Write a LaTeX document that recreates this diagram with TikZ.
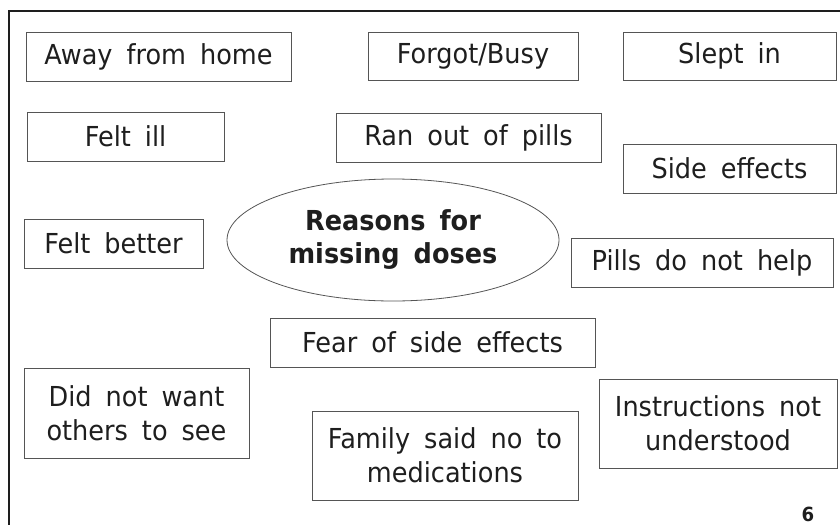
\documentclass[tikz,border=0pt]{standalone}
\usepackage{fontspec}
\setmainfont{DejaVu Sans}[FakeStretch=0.93]
\usetikzlibrary{shapes.geometric}

\definecolor{inkcol}{HTML}{1E1E1E}
\definecolor{boxcol}{HTML}{555555}

% wider gaps between words, as on the slide
\newcommand{\widewords}{\spaceskip=14pt\relax}

\tikzset{
    reason/.style={draw=boxcol, line width=0.9pt, rectangle, align=center,
        inner sep=0pt, text=inkcol,
        font=\fontsize{27.5}{34}\selectfont\widewords},
    hub/.style={draw=boxcol, line width=0.8pt, ellipse, align=center,
        inner sep=0pt, text=inkcol,
        font=\fontsize{27.5}{33}\selectfont\bfseries\widewords}
}

\begin{document}
\begin{tikzpicture}[x=1pt,y=-1pt]

    % Fix the page to the reference size (pixels, y grows downwards)
    \useasboundingbox (0,0) rectangle (840,525);

    % Frame of the slide, only top and left edges are visible
    \draw[inkcol, line width=1.6pt] (840,11) -- (9,11) -- (9,525);

    % Central ellipse
    \node[hub, minimum width=332pt, minimum height=122pt] (center) at (393,240)
        {Reasons for\\missing doses};

    % First row
    \node[reason, minimum width=265pt, minimum height=49pt] (away) at (158.5,56.5) {Away from home};
    \node[reason, minimum width=210pt, minimum height=48pt] (forgot) at (473,56) {Forgot/Busy};
    \node[reason, minimum width=213pt, minimum height=48pt] (slept) at (729.5,56) {Slept in};

    % Second row
    \node[reason, minimum width=197pt, minimum height=49pt] (ill) at (125.5,136.5) {Felt ill};
    \node[reason, minimum width=265pt, minimum height=49pt] (ranout) at (468.5,137.5) {Ran out of pills};
    \node[reason, minimum width=213pt, minimum height=49pt] (side) at (729.5,168.5) {Side effects};

    % Beside the ellipse
    \node[reason, minimum width=179pt, minimum height=49pt] (better) at (113.5,243.5) {Felt better};
    \node[reason, minimum width=262pt, minimum height=49pt] (nohelp) at (702,262.5) {Pills do not help};

    % Below the ellipse
    \node[reason, minimum width=325pt, minimum height=49pt] (fear) at (432.5,342.5) {Fear of side effects};
    \node[reason, minimum width=225pt, minimum height=90pt] (others) at (136.5,413) {Did not want\\others to see};
    \node[reason, minimum width=266pt, minimum height=89pt] (family) at (445,455.5) {Family said no to\\medications};
    \node[reason, minimum width=238pt, minimum height=89pt] (instr) at (718,423.5) {Instructions not\\understood};

    % Page number
    \node[anchor=base, inner sep=0pt, text=inkcol, font=\fontsize{19.5}{19.5}\selectfont\bfseries] (page) at (808,521) {6};

\end{tikzpicture}
\end{document}
